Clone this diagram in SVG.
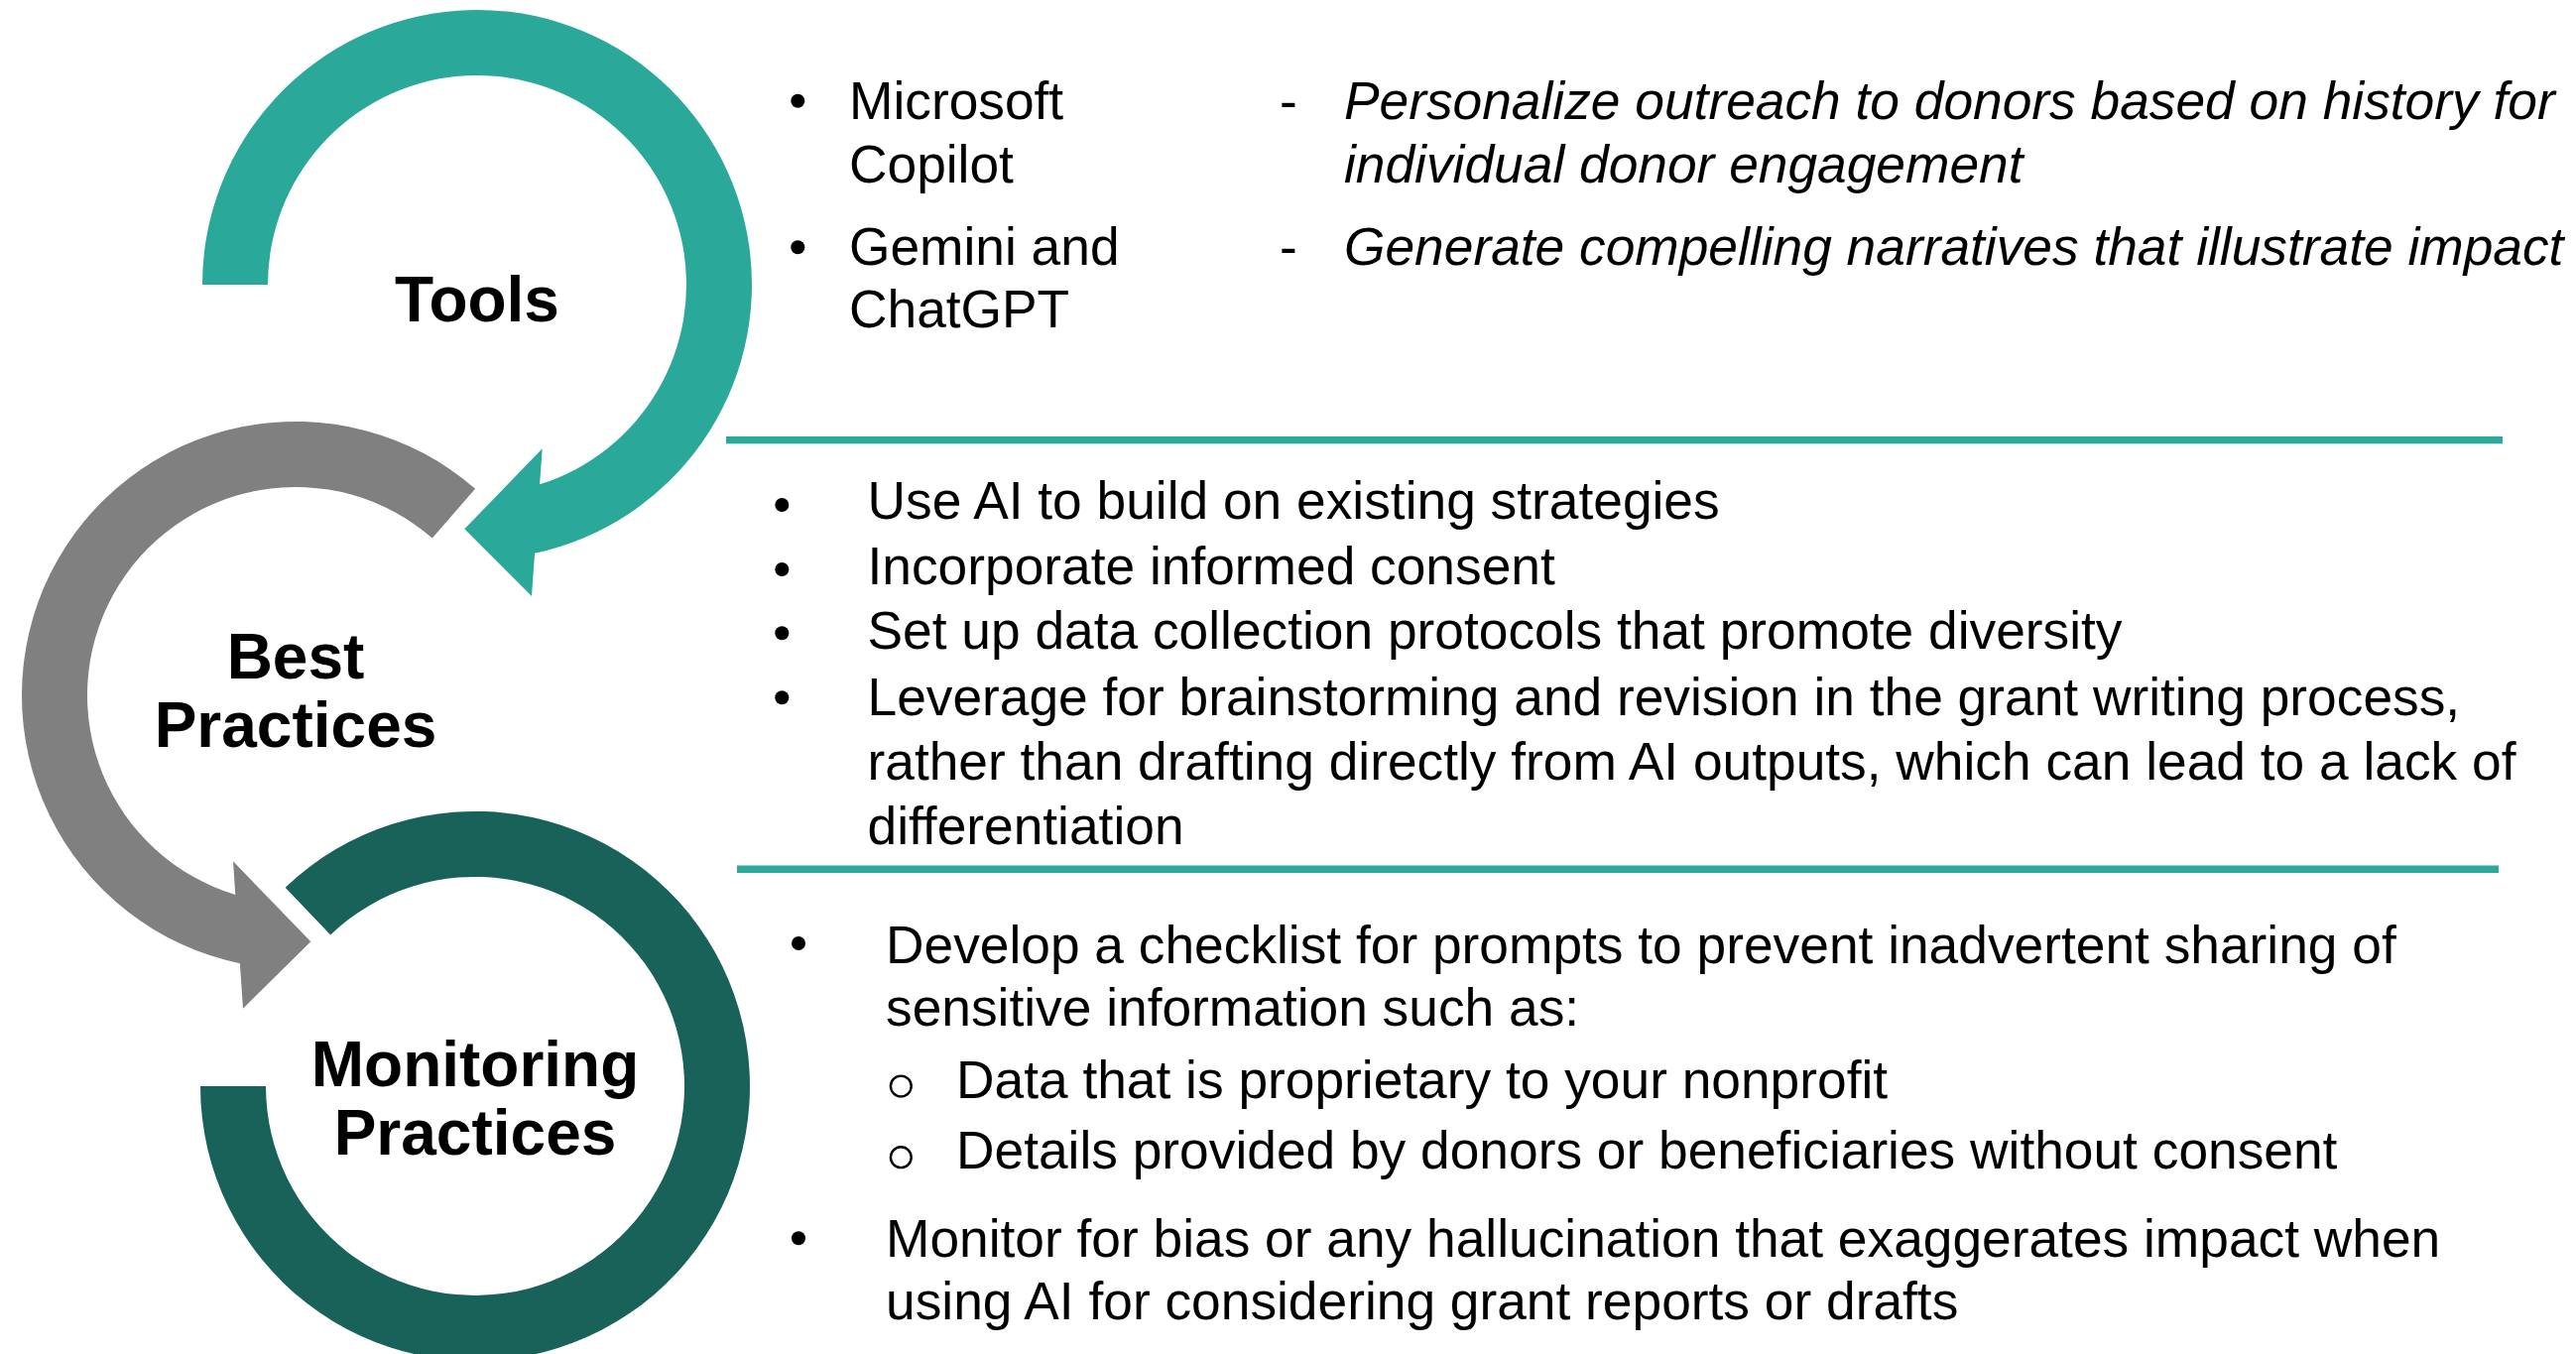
<svg xmlns="http://www.w3.org/2000/svg" width="2597" height="1365" viewBox="0 0 2597 1365">
  <style>
    .label { font-family: "Liberation Sans", Arial, sans-serif; font-weight: bold; font-size: 64px; fill: #000; text-anchor: middle; }
    .body { font-family: "Liberation Sans", Arial, sans-serif; font-size: 53.3px; fill: #000; }
    .em { font-style: italic; }
    .dot { fill: #000; }
    .ring { fill: none; stroke: #000; stroke-width: 2.4; }
    .teal { fill: #2AA899; }
    .grey { fill: #808080; }
    .deep { fill: #18625A; }
  </style>

  <rect width="2597" height="1365" fill="#ffffff"/>

  <!-- Stage 1: Tools (clockwise arc ending in an arrowhead) -->
  <g id="node-tools">
    <path class="teal" d="M 204,287 A 277,277 0 1,1 539.1,557.8 L 536,601 L 468.3,533.3 L 546.7,452.3 L 544.1,488.3 A 211,211 0 1,0 270,287 Z"/>
    <text class="label" x="481" y="324">Tools</text>
  </g>

  <!-- Stage 2: Best Practices (counter-clockwise arc ending in an arrowhead) -->
  <g id="node-best-practices">
    <path class="grey" d="M 479.1,492.7 A 276,276 0 1,0 241.9,971.2 L 245,1016.7 L 313.3,949.3 L 235,868.3 L 237.3,902 A 210,210 0 1,1 435.8,542.5 Z"/>
    <text class="label" x="298" y="684">Best</text>
    <text class="label" x="298" y="753">Practices</text>
  </g>

  <!-- Stage 3: Monitoring Practices (open ring, no arrowhead) -->
  <g id="node-monitoring">
    <path class="deep" d="M 287.6,894.7 A 277,277 0 1,1 202,1095 L 268,1095 A 211,211 0 1,0 333.2,942.4 Z"/>
    <text class="label" x="479" y="1095">Monitoring</text>
    <text class="label" x="479" y="1164">Practices</text>
  </g>

  <!-- Divider rules between the three text panels -->
  <g id="connectors">
    <rect class="teal" x="732" y="440" width="1791" height="7.3"/>
    <rect class="teal" x="743" y="872.5" width="1776" height="7.5"/>
  </g>

  <!-- Panel: tools and their uses -->
  <g id="panel-tools">
    <circle class="dot" cx="804.3" cy="101.7" r="7"/>
    <circle class="dot" cx="804.3" cy="249.3" r="7"/>
    <text class="body" x="856" y="120">Microsoft</text>
    <text class="body" x="856" y="184">Copilot</text>
    <text class="body" x="856" y="266.7">Gemini and</text>
    <text class="body" x="856" y="330">ChatGPT</text>
    <text class="body" x="1290" y="120">-</text>
    <text class="body" x="1290" y="266.7">-</text>
    <text class="body em" x="1355" y="120">Personalize outreach to donors based on history for</text>
    <text class="body em" x="1355" y="183.5">individual donor engagement</text>
    <text class="body em" x="1355" y="266.7">Generate compelling narratives that illustrate impact</text>
  </g>

  <!-- Panel: best practices -->
  <g id="panel-best-practices">
    <circle class="dot" cx="788.3" cy="509" r="7"/>
    <circle class="dot" cx="788.3" cy="574" r="7"/>
    <circle class="dot" cx="788.3" cy="638.3" r="7"/>
    <circle class="dot" cx="788.3" cy="703.3" r="7"/>
    <text class="body" x="874.5" y="522.7">Use AI to build on existing strategies</text>
    <text class="body" x="874.5" y="589.3">Incorporate informed consent</text>
    <text class="body" x="874.5" y="654">Set up data collection protocols that promote diversity</text>
    <text class="body" x="874.5" y="720.7">Leverage for brainstorming and revision in the grant writing process,</text>
    <text class="body" x="874.5" y="785.7">rather than drafting directly from AI outputs, which can lead to a lack of</text>
    <text class="body" x="874.5" y="850.7">differentiation</text>
  </g>

  <!-- Panel: monitoring practices -->
  <g id="panel-monitoring">
    <circle class="dot" cx="805" cy="951" r="7"/>
    <circle class="dot" cx="805" cy="1248.3" r="7"/>
    <circle class="ring" cx="908.3" cy="1095" r="10.4"/>
    <circle class="ring" cx="908.3" cy="1166.7" r="10.4"/>
    <text class="body" x="893" y="970.7">Develop a checklist for prompts to prevent inadvertent sharing of</text>
    <text class="body" x="893" y="1034.3">sensitive information such as:</text>
    <text class="body" x="964" y="1106.7">Data that is proprietary to your nonprofit</text>
    <text class="body" x="964" y="1178.3">Details provided by donors or beneficiaries without consent</text>
    <text class="body" x="893" y="1266.7">Monitor for bias or any hallucination that exaggerates impact when</text>
    <text class="body" x="893" y="1330">using AI for considering grant reports or drafts</text>
  </g>
</svg>
